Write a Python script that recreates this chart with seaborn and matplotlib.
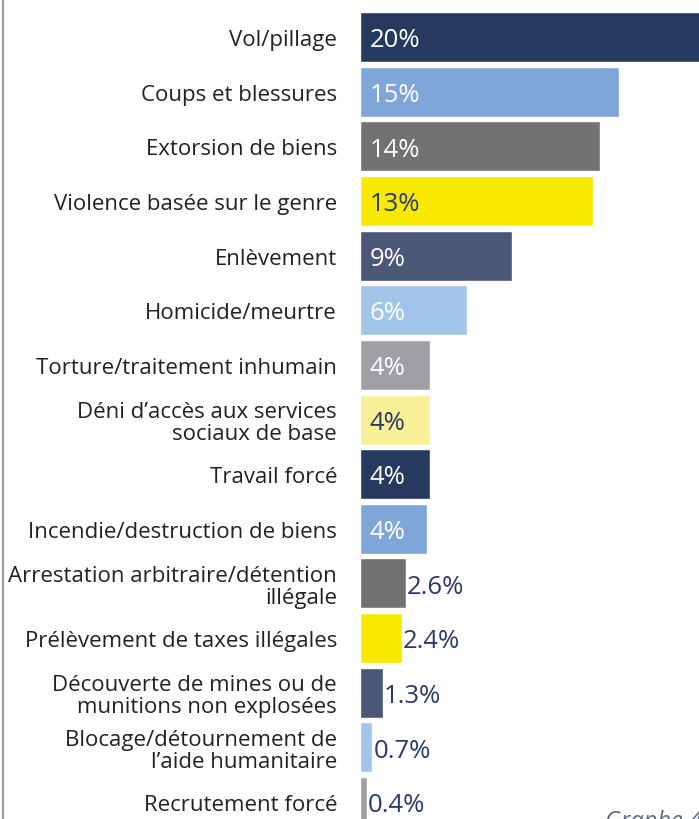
import matplotlib.pyplot as plt
import matplotlib.lines as mlines
import pandas as pd
import seaborn as sns

categories = [
    "Vol/pillage",
    "Coups et blessures",
    "Extorsion de biens",
    "Violence basée sur le genre",
    "Enlèvement",
    "Homicide/meurtre",
    "Torture/traitement inhumain",
    "Déni d\u2019accès aux services\nsociaux de base",
    "Travail forcé",
    "Incendie/destruction de biens",
    "Arrestation arbitraire/détention\nillégale",
    "Prélèvement de taxes illégales",
    "Découverte de mines ou de\nmunitions non explosées",
    "Blocage/détournement de\nl\u2019aide humanitaire",
    "Recrutement forcé",
]
values = [20.3, 14.8, 13.7, 13.3, 8.7, 6.1, 4.0, 4.0, 4.0, 3.8, 2.6, 2.4, 1.3, 0.7, 0.4]
bar_colors = [
    "#263a60", "#7fa6d8", "#727272", "#f9e800", "#4a5777", "#a3c5e9", "#a0a0a4",
    "#f9f197", "#263a60", "#7fa6d8", "#727272", "#f9e800", "#4a5777", "#a3c5e9", "#a0a0a4",
]

NAVY = "#2b3a67"
LIGHT_BARS = {"#f9e800", "#f9f197"}

sns.set_style("white")
plt.rcParams["font.family"] = ["Open Sans", "DejaVu Sans"]

df = pd.DataFrame({"Categorie": categories, "Valeur": values})

fig = plt.figure(figsize=(6.99, 8.2), dpi=100)
ax = fig.add_axes([360 / 699, 0, 339 / 699, 1])
sns.barplot(
    data=df, x="Valeur", y="Categorie", hue="Categorie", palette=bar_colors,
    orient="h", width=0.915, legend=False, ax=ax, saturation=1,
)

ax.set_xlim(0, 339 / 17.5)
ax.set_ylim(14.31, -0.695)
ax.set_xlabel("")
ax.set_ylabel("")
ax.set_xticks([])
ax.tick_params(axis="y", length=0, pad=16.5, labelsize=16, labelcolor="#222222")
for lbl in ax.get_yticklabels():
    lbl.set_linespacing(1.05)
sns.despine(ax=ax, left=True, bottom=True)

for i, (v, c) in enumerate(zip(values, bar_colors)):
    if v >= 3.5:
        label = f"{round(v)}%"
        color = NAVY if c in LIGHT_BARS else "white"
        ax.text(0.55, i + 0.05, label, va="center", ha="left", fontsize=18.5, color=color)
    else:
        label = f"{v}%"
        ax.text(v + 0.07, i + 0.05, label, va="center", ha="left", fontsize=18.5, color=NAVY)

# page frame line on the left
fig.add_artist(mlines.Line2D([2.5 / 699, 2.5 / 699], [0, 1], color="#9a9a9a", lw=1.5))
fig.text(605 / 699, -8 / 820, "Graphe 4", fontsize=17, style="italic", color="#5a6a8a", va="baseline")

fig.savefig("out.png", dpi=100, facecolor="white")
